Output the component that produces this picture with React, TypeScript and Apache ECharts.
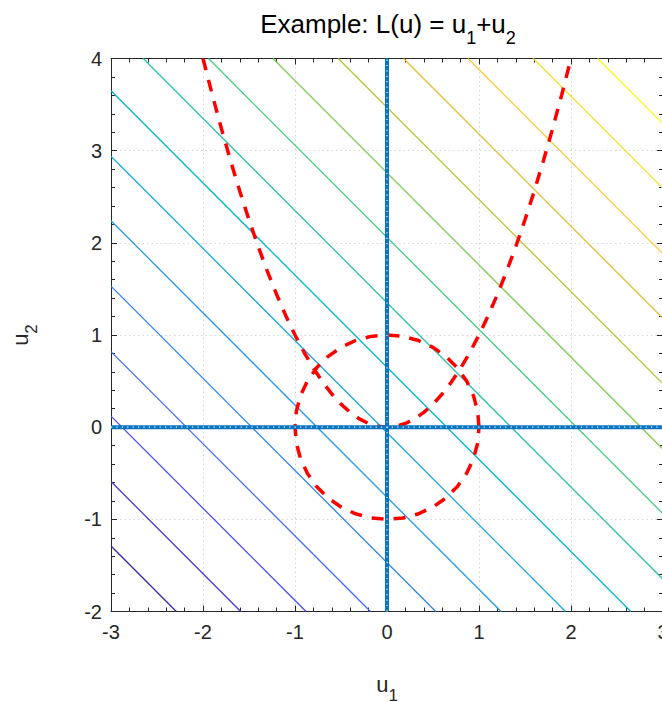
import React, { useEffect, useRef } from "react";
import * as echarts from "echarts";

// Axis ranges and ticks
const X_MIN = -3;
const X_MAX = 3;
const Y_MIN = -2;
const Y_MAX = 4;
const TICK_STEP = 1;

// Contour levels of L(u) = u1 + u2 and their colours (parula)
const contourLevels = [-4.29, -3.59, -2.88, -2.18, -1.47, -0.76, -0.06, 0.65, 1.35, 2.06, 2.76, 3.47, 4.18, 4.88, 5.59, 6.29];
const contourColors = [
  "#3e26a8", "#4537d5", "#484df0", "#4269fe", "#2f81fa", "#2797eb", "#1ca9df", "#01b8ca",
  "#2cc4a7", "#4acb84", "#81cc59", "#b9c431", "#e6bb2d", "#fec934", "#f5e327", "#f9fb15",
];

// Constraint u2 = u1^2 (parabola) sample points
const parabolaU1 = [-2, -1.9, -1.8, -1.7, -1.6, -1.5, -1.4, -1.3, -1.2, -1.1, -1, -0.9, -0.8, -0.7, -0.6, -0.5, -0.4, -0.3, -0.2, -0.1, 0, 0.1, 0.2, 0.3, 0.4, 0.5, 0.6, 0.7, 0.8, 0.9, 1, 1.1, 1.2, 1.3, 1.4, 1.5, 1.6, 1.7, 1.8, 1.9, 2];
const parabolaU2 = [4, 3.61, 3.24, 2.89, 2.56, 2.25, 1.96, 1.69, 1.44, 1.21, 1, 0.81, 0.64, 0.49, 0.36, 0.25, 0.16, 0.09, 0.04, 0.01, 0, 0.01, 0.04, 0.09, 0.16, 0.25, 0.36, 0.49, 0.64, 0.81, 1, 1.21, 1.44, 1.69, 1.96, 2.25, 2.56, 2.89, 3.24, 3.61, 4];

// Constraint u1^2 + u2^2 = 1 (unit circle) sample points
const circleU1 = [1, 0.985, 0.94, 0.866, 0.766, 0.643, 0.5, 0.342, 0.174, 0, -0.174, -0.342, -0.5, -0.643, -0.766, -0.866, -0.94, -0.985, -1, -0.985, -0.94, -0.866, -0.766, -0.643, -0.5, -0.342, -0.174, 0, 0.174, 0.342, 0.5, 0.643, 0.766, 0.866, 0.94, 0.985, 1];
const circleU2 = [0, 0.174, 0.342, 0.5, 0.643, 0.766, 0.866, 0.94, 0.985, 1, 0.985, 0.94, 0.866, 0.766, 0.643, 0.5, 0.342, 0.174, 0, -0.174, -0.342, -0.5, -0.643, -0.766, -0.866, -0.94, -0.985, -1, -0.985, -0.94, -0.866, -0.766, -0.643, -0.5, -0.342, -0.174, 0];

// Coordinate axes lines u1 = 0 and u2 = 0
const axisLineU1 = [[0, Y_MIN], [0, Y_MAX]];
const axisLineU2 = [[X_MIN, 0], [X_MAX, 0]];

const FONT = "'Liberation Sans', Arial, Helvetica, sans-serif";
const AXIS_COLOR = "#262626";

function zip(a: number[], b: number[]) {
  return a.map((v, i) => [v, b[i]]);
}

function contourSegment(level: number) {
  const x1 = Math.max(X_MIN, level - Y_MAX);
  const x2 = Math.min(X_MAX, level - Y_MIN);
  return [[x1, level - x1], [x2, level - x2]];
}

function makeAxis(kind: "x" | "y", primary: boolean) {
  const isX = kind === "x";
  return {
    type: "value",
    min: isX ? X_MIN : Y_MIN,
    max: isX ? X_MAX : Y_MAX,
    interval: TICK_STEP,
    position: isX ? (primary ? "bottom" : "top") : primary ? "left" : "right",
    axisLine: { show: true, onZero: false, lineStyle: { color: AXIS_COLOR, width: 1 } },
    axisTick: { show: true, inside: true, length: 6, lineStyle: { color: AXIS_COLOR, width: 1 } },
    minorTick: { show: true, splitNumber: 5, length: 4, lineStyle: { color: AXIS_COLOR, width: 1 } },
    axisLabel: {
      show: primary,
      color: "#262626",
      fontSize: 20,
      fontFamily: FONT,
      margin: isX ? 10 : 9,
    },
    splitLine: primary
      ? { show: true, lineStyle: { color: "#d4d4d4", width: 1, type: [1.5, 3] } }
      : { show: false },
    minorSplitLine: { show: false },
  };
}

export default function App() {
  const ref = useRef<HTMLDivElement>(null);

  useEffect(() => {
    if (!ref.current) return;
    const chart = echarts.init(ref.current, null, { renderer: "svg" });

    const contourSeries = contourLevels.map((lv, i) => ({
      type: "line",
      data: contourSegment(lv),
      showSymbol: false,
      symbol: "none",
      lineStyle: { color: contourColors[i], width: 1.3 },
      z: 2,
      silent: true,
    }));

    const redStyle = { color: "#ff0000", width: 3.5, type: [12, 10], cap: "butt" };

    const option: any = {
      animation: false,
      backgroundColor: "#ffffff",
      grid: {
        left: 111,
        top: 58.5,
        width: 552,
        height: 553,
        containLabel: false,
        outerBoundsMode: "none",
      },
      xAxis: [makeAxis("x", true), makeAxis("x", false)],
      yAxis: [makeAxis("y", true), makeAxis("y", false)],
      series: [
        ...contourSeries,
        {
          type: "line",
          data: zip(parabolaU1, parabolaU2),
          showSymbol: false,
          symbol: "none",
          lineStyle: redStyle,
          z: 3,
        },
        {
          type: "line",
          data: zip(circleU1, circleU2),
          showSymbol: false,
          symbol: "none",
          lineStyle: redStyle,
          z: 3,
        },
        {
          type: "line",
          data: axisLineU1,
          showSymbol: false,
          symbol: "none",
          lineStyle: { color: "#0a74c0", width: 4 },
          z: 4,
        },
        {
          type: "line",
          data: axisLineU2,
          showSymbol: false,
          symbol: "none",
          lineStyle: { color: "#0a74c0", width: 4 },
          z: 4,
        },
        {
          type: "line",
          data: axisLineU1,
          showSymbol: false,
          symbol: "none",
          lineStyle: { color: "#e8f3ff", width: 1.2, type: [1.2, 4.2] },
          z: 5,
        },
        {
          type: "line",
          data: axisLineU2,
          showSymbol: false,
          symbol: "none",
          lineStyle: { color: "#e8f3ff", width: 1.2, type: [1.2, 4.2] },
          z: 5,
        },
      ],
      graphic: [
        {
          type: "text",
          x: 388,
          y: 24,
          style: {
            text: "{m|Example: L(u) = u}{s|1}{m|+u}{s|2}",
            align: "center",
            verticalAlign: "middle",
            fill: "#000",
            rich: {
              m: { fontSize: 26, fontFamily: FONT, fill: "#000" },
              s: { fontSize: 18, fontFamily: FONT, fill: "#000", padding: [27, 0, 0, 0] },
            },
          },
        },
        {
          type: "text",
          x: 387,
          y: 684,
          style: {
            text: "{m|u}{s|1}",
            align: "center",
            verticalAlign: "middle",
            fill: "#262626",
            rich: {
              m: { fontSize: 22, fontFamily: FONT, fill: "#262626" },
              s: { fontSize: 17, fontFamily: FONT, fill: "#262626", padding: [22, 0, 0, 0] },
            },
          },
        },
        {
          type: "text",
          x: 20,
          y: 335,
          rotation: Math.PI / 2,
          style: {
            text: "{m|u}{s|2}",
            align: "center",
            verticalAlign: "middle",
            fill: "#262626",
            rich: {
              m: { fontSize: 22, fontFamily: FONT, fill: "#262626" },
              s: { fontSize: 17, fontFamily: FONT, fill: "#262626", padding: [22, 0, 0, 0] },
            },
          },
        },
      ],
    };

    chart.setOption(option);
    return () => chart.dispose();
  }, []);

  return (
    <div
      ref={ref}
      style={{ position: "absolute", left: 0, top: 0, width: 662, height: 702, overflow: "hidden" }}
    />
  );
}
